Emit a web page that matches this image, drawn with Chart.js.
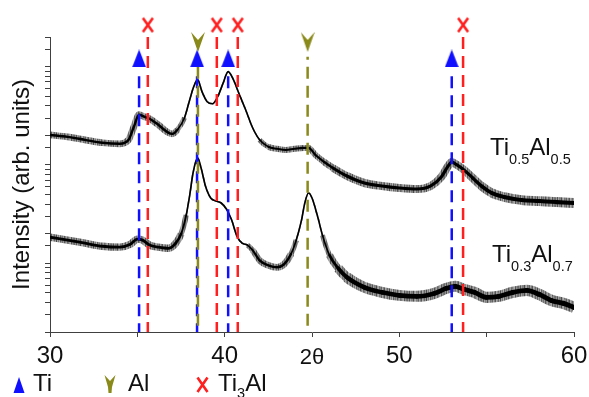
<!DOCTYPE html>
<html>
<head>
<meta charset="utf-8">
<script src="https://cdn.jsdelivr.net/npm/chart.js@4/dist/chart.umd.min.js"></script>
<style>
  html, body { margin: 0; padding: 0; background: #fff; }
  #c { display: block; }
</style>
</head>
<body>
<canvas id="c" width="589" height="397"></canvas>
<script>
// ---------------- data ----------------
const angleHi = [30,31,32,33,34,34.5,34.8,35.1,35.4,35.7,36.2,36.7,37,37.3,37.7,38,38.25,38.45,38.7,39,39.3,39.6,39.9,40.2,40.5,40.8,41.2,41.6,42,42.5,43,43.5,44,44.5,44.8,45.2,45.7,46.2,47,48,49,50,51,51.8,52.4,52.8,53,53.3,53.7,54.2,54.7,55.3,56,57,58,59,60];
const intensityHi = [20.2,19.3,18.0,16.8,16.4,18.0,24.4,32.4,30.9,29.5,25.6,21.7,20.7,22.8,30.2,46.1,64.0,73.7,55.6,43.9,41.9,49.4,67.1,88.9,73.7,54.3,36.4,23.9,18.0,15.3,14.6,14.2,14.6,14.9,14.9,12.6,10.7,9.32,7.72,6.55,6.11,5.83,5.69,6.11,7.54,9.77,10.7,10.0,8.89,7.37,6.11,5.18,4.72,4.39,4.29,4.19,4.10];

const angleLo = [30,31,32,33,34,34.6,35,35.3,35.7,36.2,36.8,37.2,37.5,37.8,38,38.2,38.45,38.65,38.9,39.2,39.5,39.8,40.1,40.4,40.7,41,41.3,41.6,42,42.5,43,43.4,43.8,44.1,44.4,44.6,44.8,45,45.3,45.6,46,46.5,47,48,49,50,51,52,52.7,53.2,53.7,54.3,55,55.7,56.5,57.3,58,58.7,59.4,60];
const intensityLo = [1.84,1.72,1.60,1.49,1.46,1.56,1.76,1.72,1.53,1.46,1.42,1.60,1.98,3.09,4.94,8.48,11.8,9.32,6.11,4.61,4.29,4.10,3.56,2.75,1.89,1.60,1.53,1.36,1.07,0.954,0.910,0.977,1.24,1.72,2.75,4.19,5.18,4.61,3.09,1.93,1.21,0.889,0.720,0.569,0.506,0.471,0.461,0.494,0.556,0.583,0.543,0.506,0.450,0.461,0.506,0.530,0.483,0.419,0.391,0.356];

const tiPeaks    = [35.1, 38.42, 40.2, 53.0];
const alPeaks    = [38.47, 44.75];
const ti3alPeaks = [35.6, 39.55, 40.75, 53.65];

const xTicks = [30, 40, 50, 60];
const sampleLabels = [['Ti','0.5','Al','0.5'], ['Ti','0.3','Al','0.7']];
const legendNames = ['Ti', 'Al', 'Ti3Al'];

// ---------------- style ----------------
const FONT = "'Liberation Sans', Arial, Helvetica, sans-serif";
const BLUE = '#1010ff', OLIVE = '#8a8a1a', RED = '#ff1f1f', AXIS = '#404040', TEXT = '#111';
const Y_MIN = 0.2, Y_MAX = 200;
// heights (in axis units) where the reference markers / dashed lines sit
const lvl = { tiMark: 121, tiTop: 80, alMark: 178, alTop: 126, xMark: 265, xTop: 200 };

Chart.defaults.font.family = FONT;

function makeImg(w, h, draw) {
  const c = document.createElement('canvas');
  c.width = w; c.height = h;
  draw(c.getContext('2d'), w, h);
  return c;
}
const triImg = makeImg(14, 18, (g, w, h) => {
  g.fillStyle = BLUE; g.beginPath();
  g.moveTo(w / 2, 0); g.lineTo(w, h); g.lineTo(0, h); g.closePath(); g.fill();
});
const alImg = makeImg(14, 20, (g, w, h) => {
  g.fillStyle = OLIVE; g.beginPath();
  g.moveTo(0, 0); g.lineTo(w / 2, h * 0.4); g.lineTo(w, 0); g.lineTo(w / 2, h); g.closePath(); g.fill();
});
const xImg = makeImg(14, 17, (g, w, h) => {
  g.strokeStyle = RED; g.lineWidth = 2.6; g.beginPath();
  g.moveTo(2, 1.5); g.lineTo(w - 2, h - 1.5);
  g.moveTo(w - 2, 1.5); g.lineTo(2, h - 1.5); g.stroke();
});

// streaky texture for the noisy part of the traces (fixed stripe shades)
const stripeShades = [0.8,0.6,0.9,0.5,0.7,0.65,0.95,0.55,0.45,0.75,0.65,0.85,0.5,0.7,0.9,0.45,0.6,0.8,0.55,0.95,0.5,0.7,0.4,0.85,0.6,0.75,0.55,0.9,0.65,0.5,0.8,0.7,0.55,0.45,0.9,0.6,0.75];
const stripeImg = makeImg(stripeShades.length, 4, (g, w, h) => {
  stripeShades.forEach((a, i) => { g.fillStyle = 'rgba(20,20,20,' + (a * 0.8).toFixed(3) + ')'; g.fillRect(i, 0, 1, h); });
});
const stripePattern = document.createElement('canvas').getContext('2d').createPattern(stripeImg, 'repeat');

// width profile of the noisy trace (style only)
const bandHi = [[30,3.5],[37,3.5],[37.8,1.6],[41.8,1.6],[42.6,3],[45.4,3],[47,4.5],[54,4.5],[55.5,5.5],[60,6]];
const bandLo = [[30,4],[37.3,4],[37.9,1.6],[41,1.6],[42,3.5],[43.6,3.5],[44.2,1.6],[45.6,1.6],[47,6.5],[60,7]];
function bandWidth(prof, x) {
  for (let i = 1; i < prof.length; i++) {
    if (x <= prof[i][0]) {
      const [x0, w0] = prof[i - 1], [x1, w1] = prof[i];
      return w0 + (w1 - w0) * (x - x0) / (x1 - x0);
    }
  }
  return prof[prof.length - 1][1];
}

function pts(xs, ys) { return xs.map((x, i) => ({ x, y: ys[i] })); }

const datasets = [];
function addPattern(xs, ys, prof) {
  const mid = c => bandWidth(prof, (c.p0.parsed.x + c.p1.parsed.x) / 2);
  datasets.push({
    data: pts(xs, ys), borderColor: stripePattern, pointRadius: 0,
    cubicInterpolationMode: 'monotone', borderCapStyle: 'butt', borderJoinStyle: 'round',
    borderWidth: 6, segment: { borderWidth: c => { const w = mid(c); return w < 2 ? 1.6 : w * 1.35 + 2; } }, order: 20
  });
  datasets.push({
    data: pts(xs, ys), borderColor: '#000', pointRadius: 0,
    cubicInterpolationMode: 'monotone', borderCapStyle: 'round', borderJoinStyle: 'round',
    borderWidth: 2, segment: { borderWidth: c => Math.max(1.6, mid(c) * 0.7) }, order: 19
  });
}
addPattern(angleHi, intensityHi, bandHi);
addPattern(angleLo, intensityLo, bandLo);

function addRefLines(peaks, color, top, mark, img, dashOffset) {
  peaks.forEach(p => {
    datasets.push({
      data: [{ x: p, y: top }, { x: p, y: Y_MIN }], borderColor: color, borderWidth: 2.5,
      borderDash: [12, 7], borderDashOffset: dashOffset, pointRadius: 0, order: 5, clip: false
    });
  });
  datasets.push({
    data: peaks.map(p => ({ x: p, y: mark })), showLine: false, pointStyle: img,
    pointRadius: 14, clip: false, order: 1
  });
}
addRefLines(ti3alPeaks, RED, lvl.xTop, lvl.xMark, xImg, 0);
addRefLines(alPeaks, OLIVE, lvl.alTop, lvl.alMark, alImg, 9);
addRefLines(tiPeaks, BLUE, lvl.tiTop, lvl.tiMark, triImg, 0);

function drawRich(g, x, y, parts, big, small, drop) {
  parts.forEach((t, i) => {
    const sub = i % 2 === 1;
    g.font = (sub ? small : big) + 'px ' + FONT;
    g.fillText(t, x, sub ? y + drop : y);
    x += g.measureText(t).width;
  });
}

const annotate = {
  id: 'annotate',
  afterDraw(chart) {
    const g = chart.ctx;
    g.save();
    g.fillStyle = TEXT;
    g.textBaseline = 'alphabetic';
    g.textAlign = 'left';
    // sample labels
    drawRich(g, 490, 155, sampleLabels[0], 24, 14.5, 9);
    drawRich(g, 492, 262, sampleLabels[1], 24, 14.5, 9);
    // legend markers
    g.fillStyle = BLUE; g.beginPath();
    g.moveTo(19, 377); g.lineTo(24.5, 393); g.lineTo(13.5, 393); g.closePath(); g.fill();
    g.fillStyle = OLIVE; g.beginPath();
    g.moveTo(104.5, 375); g.lineTo(110, 381); g.lineTo(115.5, 375); g.lineTo(112, 387);
    g.lineTo(111.5, 393); g.lineTo(108.5, 393); g.lineTo(108, 387); g.closePath(); g.fill();
    g.strokeStyle = RED; g.lineWidth = 2.6; g.beginPath();
    g.moveTo(197.5, 377.5); g.lineTo(207.5, 392); g.moveTo(207.5, 377.5); g.lineTo(197.5, 392); g.stroke();
    // legend text
    g.fillStyle = TEXT;
    g.font = '24px ' + FONT;
    g.fillText(legendNames[0], 33, 391);
    g.fillText(legendNames[1], 128, 391);
    drawRich(g, 218, 391, ['Ti', '3', 'Al'], 24, 14.5, 7);
    g.restore();
  }
};

new Chart(document.getElementById('c'), {
  type: 'line',
  data: { datasets },
  options: {
    responsive: false,
    animation: false,
    events: [],
    layout: { padding: { top: 37, right: 14, left: 0, bottom: 0 } },
    plugins: { legend: { display: false }, tooltip: { enabled: false } },
    scales: {
      x: {
        type: 'linear', min: 30, max: 60, position: 'bottom',
        ticks: {
          stepSize: 5, autoSkip: false, maxRotation: 0, padding: 5, color: TEXT,
          font: { size: 24 },
          callback: v => xTicks.includes(v) ? String(v) : ''
        },
        grid: { drawOnChartArea: false, drawTicks: true, tickLength: 5, color: AXIS },
        border: { display: true, color: AXIS, width: 1 },
        title: { display: true, text: '2θ', color: TEXT, font: { size: 22, lineHeight: 1.2 }, padding: { top: 0, bottom: 26 } },
        afterFit: s => { s.height = 65; s.paddingLeft = 0; s.paddingRight = 0; }
      },
      y: {
        type: 'logarithmic', min: Y_MIN, max: Y_MAX, position: 'left',
        ticks: { display: false, autoSkip: false },
        grid: { drawOnChartArea: false, drawTicks: true, tickLength: 5, color: AXIS },
        border: { display: true, color: AXIS, width: 1 },
        title: { display: true, text: 'Intensity (arb. units)', color: TEXT, font: { size: 24, lineHeight: 1 }, padding: { top: 10, bottom: 0 } },
        afterFit: s => { s.width = 50; }
      }
    }
  },
  plugins: [annotate]
});
</script>
</body>
</html>
